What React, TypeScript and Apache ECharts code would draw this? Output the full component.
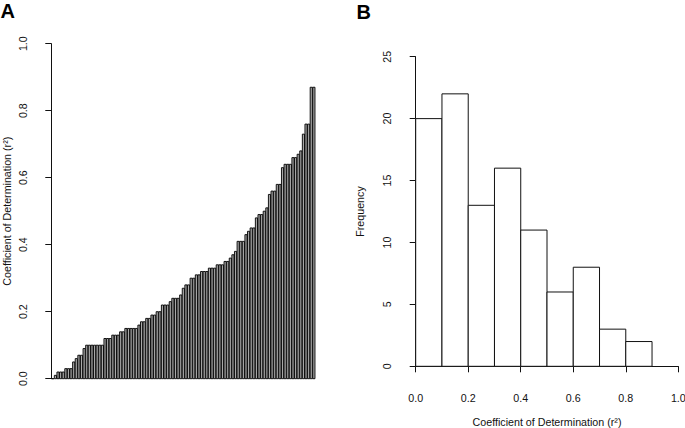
import React, { useEffect, useRef } from "react";
import * as echarts from "echarts";

// Panel A: sorted coefficients of determination (one bar per model)
const rsqSorted: number[] = [
  0.0, 0.01, 0.02, 0.02, 0.02, 0.03, 0.03, 0.03, 0.05, 0.06,
  0.07, 0.07, 0.09, 0.1, 0.1, 0.1, 0.1, 0.1, 0.1, 0.1,
  0.12, 0.12, 0.12, 0.13, 0.13, 0.13, 0.14, 0.14, 0.15, 0.15,
  0.15, 0.15, 0.15, 0.16, 0.17, 0.17, 0.18, 0.18, 0.19, 0.19,
  0.2, 0.2, 0.22, 0.22, 0.22, 0.23, 0.24, 0.24, 0.24, 0.25,
  0.27, 0.28, 0.28, 0.3, 0.3, 0.31, 0.31, 0.32, 0.32, 0.32,
  0.33, 0.33, 0.33, 0.34, 0.34, 0.34, 0.35, 0.35, 0.36, 0.37,
  0.38, 0.41, 0.41, 0.41, 0.43, 0.44, 0.45, 0.45, 0.48, 0.49,
  0.49, 0.5, 0.51, 0.55, 0.56, 0.56, 0.58, 0.58, 0.63, 0.64,
  0.64, 0.64, 0.66, 0.66, 0.67, 0.68, 0.73, 0.76, 0.76, 0.87,
  0.87,
];

// Panel B: histogram
const histBinStart: number[] = [0.0, 0.1, 0.2, 0.3, 0.4, 0.5, 0.6, 0.7, 0.8];
const histCounts: number[] = [20, 22, 13, 16, 11, 6, 8, 3, 2];
const histBinWidth = 0.1;

const rTicksA = [0, 0.2, 0.4, 0.6, 0.8, 1.0];
const freqTicks = [0, 5, 10, 15, 20, 25];

const FONT = "Liberation Sans";
const AXIS_TITLE = "Coefficient of Determination (r²)";

export default function App() {
  const ref = useRef<HTMLDivElement>(null);

  useEffect(() => {
    if (!ref.current) return;
    const chart = echarts.init(ref.current, undefined, { renderer: "svg" });

    const nBars = rsqSorted.length;
    const xMinA = 0.2 - 0.04 * (1.2 * nBars - 0.2);
    const xMaxA = 1.2 * nBars + 0.04 * (1.2 * nBars - 0.2);

    const axisLineStyle = { color: "#111", width: 1 };
    const labelBase = { fontFamily: FONT, fontSize: 10.7, color: "#111" };

    chart.setOption({
      animation: false,
      textStyle: { fontFamily: FONT },
      graphic: [
        {
          type: "text",
          left: 0.5,
          top: 1,
          style: { text: "A", fontFamily: FONT, fontWeight: "bold", fontSize: 20, fill: "#000" },
        },
        {
          type: "text",
          left: 356.5,
          top: 2,
          style: { text: "B", fontFamily: FONT, fontWeight: "bold", fontSize: 20, fill: "#000" },
        },
      ],
      grid: [
        { left: 41.2, top: 43.7, width: 284.3, height: 335, containLabel: false, outerBoundsMode: "none" },
        { left: 415.7, top: 56.7, width: 262.6, height: 309.6, containLabel: false, outerBoundsMode: "none" },
      ],
      xAxis: [
        { type: "value", gridIndex: 0, min: xMinA, max: xMaxA, show: false },
        {
          type: "value",
          gridIndex: 1,
          min: 0,
          max: 1,
          interval: 0.2,
          offset: 12.4,
          axisLine: { show: true, lineStyle: axisLineStyle },
          axisTick: { show: true, length: 6, lineStyle: axisLineStyle },
          axisLabel: { ...labelBase, margin: 13.4, formatter: (v: number) => v.toFixed(1) },
          splitLine: { show: false },
          name: AXIS_TITLE,
          nameLocation: "middle",
          nameGap: 37.4,
          nameTextStyle: { ...labelBase },
        },
      ],
      yAxis: [
        {
          type: "value",
          gridIndex: 0,
          min: rTicksA[0],
          max: rTicksA[rTicksA.length - 1],
          interval: 0.2,
          axisLine: { show: true, lineStyle: axisLineStyle },
          axisTick: { show: true, length: 6, lineStyle: axisLineStyle },
          axisLabel: { ...labelBase, rotate: 90, margin: 13, formatter: (v: number) => v.toFixed(1) },
          splitLine: { show: false },
          name: AXIS_TITLE,
          nameLocation: "middle",
          nameRotate: 90,
          nameGap: 29,
          nameTextStyle: { ...labelBase },
        },
        {
          type: "value",
          gridIndex: 1,
          min: freqTicks[0],
          max: freqTicks[freqTicks.length - 1],
          interval: 5,
          offset: 10.7,
          axisLine: { show: true, lineStyle: axisLineStyle },
          axisTick: { show: true, length: 6, lineStyle: axisLineStyle },
          axisLabel: { ...labelBase, rotate: 90, margin: 13 },
          splitLine: { show: false },
          name: "Frequency",
          nameLocation: "middle",
          nameRotate: 90,
          nameGap: 39.5,
          nameTextStyle: { ...labelBase },
        },
      ],
      series: [
        {
          type: "custom",
          xAxisIndex: 0,
          yAxisIndex: 0,
          data: rsqSorted.map((v, i) => [i, v]),
          renderItem: (_params: any, api: any) => {
            const i = api.value(0);
            const v = api.value(1);
            const p0 = api.coord([0.2 + 1.2 * i, 0]);
            const p1 = api.coord([1.2 + 1.2 * i, v]);
            return {
              type: "rect",
              shape: { x: p0[0], y: p1[1], width: p1[0] - p0[0], height: p0[1] - p1[1] },
              style: { fill: "#a8a8a8", stroke: "#000", lineWidth: 0.9 },
            };
          },
        },
        {
          type: "custom",
          xAxisIndex: 1,
          yAxisIndex: 1,
          data: histBinStart.map((s, i) => [s, histCounts[i]]),
          renderItem: (_params: any, api: any) => {
            const s = api.value(0);
            const c = api.value(1);
            const p0 = api.coord([s, 0]);
            const p1 = api.coord([s + histBinWidth, c]);
            return {
              type: "rect",
              shape: { x: p0[0], y: p1[1], width: p1[0] - p0[0], height: p0[1] - p1[1] },
              style: { fill: "#fff", stroke: "#111", lineWidth: 1 },
            };
          },
        },
      ],
    });

    return () => chart.dispose();
  }, []);

  return (
    <div
      ref={ref}
      style={{ position: "fixed", left: 0, top: 0, width: 685, height: 428, background: "#fff" }}
    />
  );
}
